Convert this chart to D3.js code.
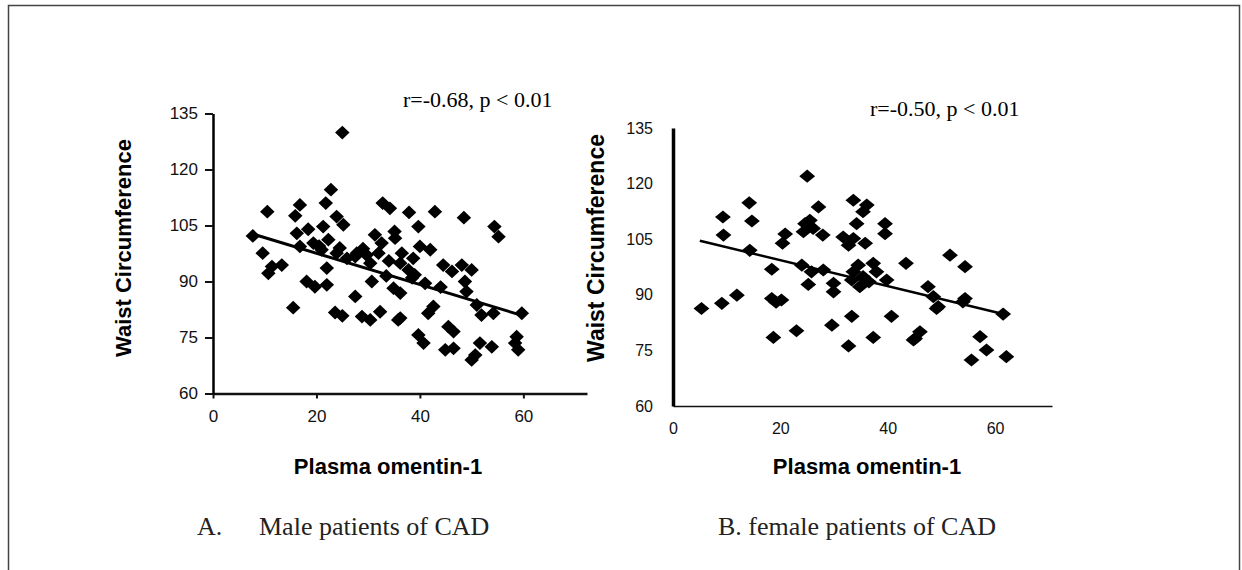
<!DOCTYPE html>
<html>
<head>
<meta charset="utf-8">
<script src="https://cdn.jsdelivr.net/npm/d3@7"></script>
<style>
  body { margin: 0; background: #fff; }
  svg { display: block; }
  .tick text { fill: #111; }
</style>
</head>
<body>
<div id="chart"></div>
<script>
// A. male patients
var maleX = [25.0, 22.8, 21.8, 16.8, 15.9, 10.5, 23.9, 25.2, 32.8, 34.2,
  37.9, 42.9, 48.5, 54.4, 55.2, 39.7, 21.3, 18.4, 16.2, 7.7,
  31.3, 32.6, 35.1, 35.2, 22.3, 19.4, 21.0, 23.9, 27.8, 29.7,
  32.0, 36.5, 40.0, 42.0, 9.6, 11.4, 13.3, 10.7, 16.8, 22.0,
  25.9, 27.5, 30.4, 36.2, 38.7, 37.8, 44.5, 46.2, 48.1, 50.0,
  18.1, 19.7, 22.0, 30.7, 34.9, 36.2, 41.0, 48.7, 49.0, 15.5,
  27.5, 23.6, 25.0, 28.8, 30.4, 32.3, 35.8, 41.6, 42.6, 39.7,
  40.7, 45.5, 46.5, 44.9, 46.5, 50.0, 50.7, 51.6, 53.9, 51.9,
  54.2, 58.7, 58.4, 59.0, 59.7, 51.0, 36.2, 33.5, 38.5, 44.0,
  20.5, 24.5, 29.0, 34.0, 39.0];
var maleY = [129.9, 114.6, 111.0, 110.5, 107.6, 108.7, 107.4, 105.2, 111.0, 109.6,
  108.5, 108.7, 107.1, 104.7, 102.0, 104.7, 104.7, 104.0, 102.9, 102.2,
  102.5, 100.3, 103.4, 101.6, 101.2, 100.3, 98.5, 97.6, 97.6, 97.1,
  97.6, 97.6, 99.4, 98.5, 97.6, 94.0, 94.4, 92.2, 99.4, 93.6,
  96.2, 96.7, 94.9, 94.9, 96.2, 93.1, 94.4, 92.7, 94.4, 93.1,
  90.0, 88.6, 89.1, 90.0, 88.2, 86.9, 89.5, 90.0, 87.3, 83.0,
  86.0, 81.7, 80.8, 80.6, 79.7, 81.9, 79.7, 81.5, 83.3, 75.7,
  73.5, 77.9, 76.6, 71.7, 72.1, 69.0, 70.3, 73.5, 72.5, 81.0,
  81.5, 75.2, 73.5, 71.7, 81.5, 83.7, 80.2, 91.5, 91.0, 88.5,
  99.5, 99.0, 98.8, 95.5, 91.8];
var maleTrend = [[7.5, 102.8], [60, 80.8]];

// B. female patients
var femaleX = [25.0, 14.2, 9.3, 14.7, 27.1, 33.6, 36.1, 35.4, 34.2, 39.5,
  39.5, 24.6, 25.5, 24.3, 26.1, 27.9, 20.9, 20.4, 9.4, 31.7,
  33.6, 35.8, 32.7, 14.3, 18.4, 24.0, 25.8, 28.0, 25.2, 29.9,
  29.9, 33.6, 34.5, 35.4, 33.3, 34.8, 37.3, 37.9, 39.8, 43.4,
  51.6, 54.4, 47.5, 48.5, 49.4, 54.4, 61.5, 5.3, 9.1, 11.9,
  18.4, 20.2, 33.3, 40.7, 29.6, 23.0, 18.7, 37.3, 46.0, 45.1,
  57.2, 32.7, 44.8, 49.1, 58.4, 55.6, 62.1, 54.0, 19.2, 36.5];
var femaleY = [122.0, 114.8, 111.0, 109.9, 113.7, 115.5, 114.2, 112.4, 109.2, 109.2,
  106.5, 109.2, 110.1, 107.0, 107.9, 106.1, 106.4, 103.9, 106.1, 105.6,
  105.2, 103.9, 103.4, 102.0, 96.9, 98.0, 96.2, 96.7, 92.8, 93.1,
  90.8, 96.2, 98.0, 94.9, 94.0, 92.2, 98.5, 96.2, 94.0, 98.5,
  100.7, 97.6, 92.2, 89.5, 86.8, 89.0, 84.8, 86.3, 87.7, 89.9,
  89.0, 88.6, 84.2, 84.2, 81.8, 80.3, 78.5, 78.5, 80.0, 78.2,
  78.7, 76.2, 77.8, 86.3, 75.1, 72.4, 73.3, 88.1, 88.0, 93.5];
var femaleTrend = [[5, 104.6], [61.5, 84.8]];

var xTicks = [0, 20, 40, 60];
var yTicks = [60, 75, 90, 105, 120, 135];

var width = 1242;
var height = 570;

// diamond marker, a little wider than tall
var diamond = function(ratio) {
  return {
    draw: function(context, size) {
      var a = Math.sqrt(size / 2 * ratio);
      var b = a / ratio;
      context.moveTo(0, -b);
      context.lineTo(a, 0);
      context.lineTo(0, b);
      context.lineTo(-a, 0);
      context.closePath();
    }
  };
};

var svg = d3.select('#chart')
  .append('svg')
  .attr('width', width)
  .attr('height', height);

// frame round the figure
svg.append('rect')
  .attr('x', 8.5)
  .attr('y', 5.5)
  .attr('width', 1231)
  .attr('height', 600)
  .attr('fill', 'none')
  .attr('stroke', '#444')
  .attr('stroke-width', 1.5);

var drawPanel = function(p) {
  var g = svg.append('g');
  var xScale = d3.scaleLinear().domain(p.xDomain).range(p.xRange);
  var yScale = d3.scaleLinear().domain([60, 135]).range(p.yRange);

  var xAxis = g.append('g')
    .attr('transform', 'translate(0,' + p.yRange[0] + ')')
    .call(d3.axisBottom(xScale).tickValues(xTicks).tickSize(p.xTickSize)
      .tickSizeOuter(0).tickPadding(p.xTickPad));
  xAxis.select('.domain').attr('stroke', '#111').attr('stroke-width', p.xStroke);
  xAxis.selectAll('.tick line').attr('stroke', '#111').attr('stroke-width', 2);
  xAxis.selectAll('.tick text')
    .style('font-family', 'Liberation Sans, Arial, sans-serif')
    .style('font-size', p.tickFont + 'px');

  var yAxis = g.append('g')
    .attr('transform', 'translate(' + p.xRange[0] + ',0)')
    .call(d3.axisLeft(yScale).tickValues(yTicks).tickSize(p.yTickSize)
      .tickSizeOuter(0).tickPadding(p.yTickPad));
  yAxis.select('.domain').attr('stroke', '#000').attr('stroke-width', p.yStroke);
  yAxis.selectAll('.tick line').attr('stroke', '#111').attr('stroke-width', 2);
  yAxis.selectAll('.tick text')
    .style('font-family', 'Liberation Sans, Arial, sans-serif')
    .style('font-size', p.tickFont + 'px');

  var symbol = d3.symbol().type(diamond(p.ratio)).size(p.markSize);
  g.append('g')
    .selectAll('path')
    .data(d3.range(p.xs.length))
    .enter()
    .append('path')
    .attr('d', symbol)
    .attr('fill', '#000')
    .attr('transform', function(i) {
      return 'translate(' + xScale(p.xs[i]) + ',' + yScale(p.ys[i]) + ')';
    });

  var line = d3.line()
    .x(function(d) { return xScale(d[0]); })
    .y(function(d) { return yScale(d[1]); });
  g.append('path')
    .attr('d', line(p.trend))
    .attr('fill', 'none')
    .attr('stroke', '#000')
    .attr('stroke-width', p.trendStroke);

  g.append('text')
    .attr('x', p.statX)
    .attr('y', p.statY)
    .style('font-family', 'Liberation Serif, Times New Roman, serif')
    .style('font-size', '22px')
    .text(p.stat);

  g.append('text')
    .attr('transform', 'translate(' + p.yTitleX + ',' + p.yTitleY + ') rotate(-90)')
    .attr('text-anchor', 'middle')
    .attr('dominant-baseline', 'central')
    .style('font-family', 'Liberation Sans, Arial, sans-serif')
    .style('font-weight', 'bold')
    .style('font-size', p.yTitleFont + 'px')
    .text('Waist Circumference');

  g.append('text')
    .attr('x', p.xTitleX)
    .attr('y', p.xTitleY)
    .attr('text-anchor', 'middle')
    .style('font-family', 'Liberation Sans, Arial, sans-serif')
    .style('font-weight', 'bold')
    .style('font-size', '22px')
    .text('Plasma omentin-1');
};

drawPanel({
  xs: maleX, ys: maleY, trend: maleTrend,
  xDomain: [0, 72.3], xRange: [213, 587], yRange: [393.5, 113.5],
  xTickSize: 5, xTickPad: 11, yTickSize: 8, yTickPad: 7,
  xStroke: 2.5, yStroke: 2.5, tickFont: 17,
  ratio: 1.05, markSize: 100, trendStroke: 3,
  stat: 'r=-0.68, p < 0.01', statX: 403, statY: 107,
  yTitleX: 123, yTitleY: 248, yTitleFont: 22,
  xTitleX: 388, xTitleY: 474
});

drawPanel({
  xs: femaleX, ys: femaleY, trend: femaleTrend,
  xDomain: [0, 70.6], xRange: [673, 1052], yRange: [406, 128],
  xTickSize: 0, xTickPad: 17, yTickSize: 0, yTickPad: 20,
  xStroke: 1.6, yStroke: 3.5, tickFont: 16,
  ratio: 1.2, markSize: 104, trendStroke: 2.5,
  stat: 'r=-0.50, p < 0.01', statX: 870, statY: 116,
  yTitleX: 596, yTitleY: 248, yTitleFont: 23,
  xTitleX: 867, xTitleY: 474
});

// captions under the panels
var captions = [
  { x: 197, text: 'A.' },
  { x: 259, text: 'Male patients of CAD' },
  { x: 718, text: 'B. female patients of CAD' }
];
svg.append('g')
  .selectAll('text')
  .data(captions)
  .enter()
  .append('text')
  .attr('x', function(d) { return d.x; })
  .attr('y', 535)
  .style('font-family', 'Liberation Serif, Times New Roman, serif')
  .style('font-size', '26px')
  .style('fill', '#222')
  .text(function(d) { return d.text; });
</script>
</body>
</html>
